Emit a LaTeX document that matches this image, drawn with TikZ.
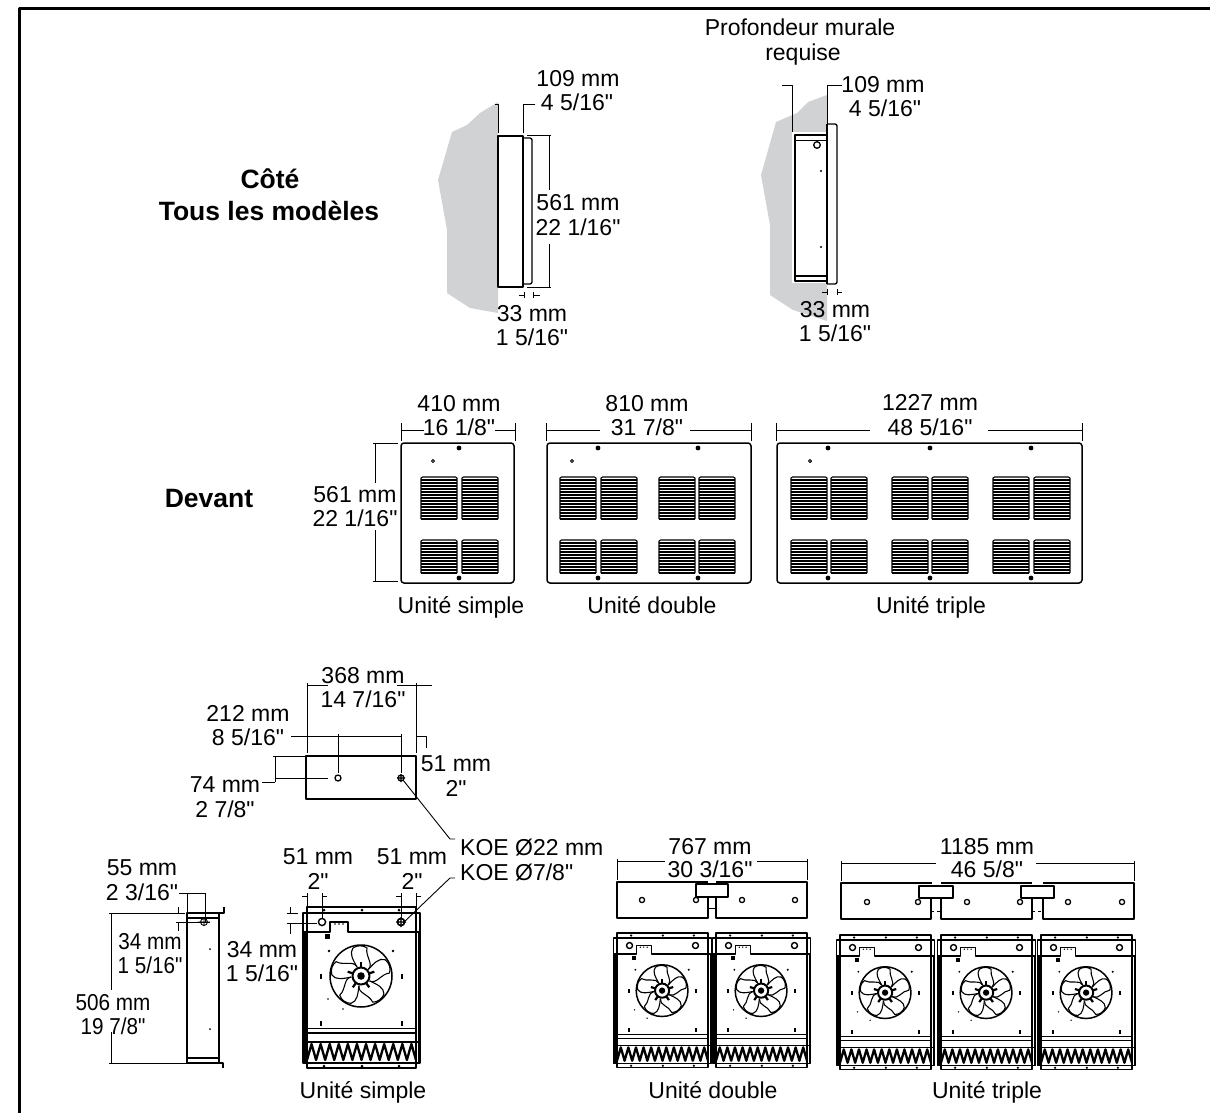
\documentclass[tikz,border=0pt]{standalone}
\usepackage{fontspec}
\usepackage{graphicx}
\setmainfont{Liberation Sans}[Ligatures=TeXOff]
\tikzset{
	lbl/.style={inner sep=0pt, text height=16.5pt, text depth=0pt, font=\fontsize{23}{27}\selectfont},
	lblb/.style={inner sep=0pt, text height=19pt, text depth=0pt, font=\fontsize{26.5}{31}\selectfont\bfseries},
	dim/.style={line width=0.9pt},
	heavy/.style={line width=1.9pt},
	mid/.style={line width=1.3pt}
}
\definecolor{wallgray}{RGB}{208,210,211}
\newcommand{\tight}[1]{\scalebox{0.9}[1]{#1}}
% one slotted opening of the front panel
\newcommand{\grille}[3]{
	\draw[line width=1.1pt] (#1,#2+#3) -- (#1,#2+1) to[bend left=20] (#1+1.5,#2) -- (#1+34.5,#2) to[bend left=20] (#1+36,#2+1) -- (#1+36,#2+#3);
	\foreach \yy in {3,6,...,#3} \draw[line width=1.5pt] (#1,#2+\yy) -- (#1+36,#2+\yy);
}
\newcommand{\screw}[2]{\fill (#1,#2) circle (2.4);}
% fan
\newcommand{\fanwheel}{
	\draw[line width=1.5pt] (0,0) circle (31);
	\foreach \i in {0,72,...,288} {
		\begin{scope}[rotate=\i]
			\draw[line width=1.1pt] (-4,-9) .. controls (-8,-16) and (-12,-23) .. (-8,-28) .. controls (-4,-31) and (2,-31) .. (6,-28) .. controls (4,-20) and (13,-12) .. (7.3,-6.6);
			\draw[line width=2.2pt] (0,-9) -- (0,-14);
		\end{scope}
	}
	\draw[line width=2pt, fill=white] (0,0) circle (8.5);
	\fill (0,0) circle (3.8);
}
\newcommand{\fanunit}[3]{
	\begin{scope}[shift={(#1,#2)},scale=#3]
		\draw[mid] (0,0) rectangle (109,161);
		\draw[mid] (-4,6) rectangle (113,156);
		\draw[heavy] (-2,25) -- (-2,156);
		\draw[heavy] (112,25) -- (112,156);
		\draw[dim, dashed] (109,25) -- (109,135);
		\draw[mid] (-4,25) -- (23,25) -- (23,15) -- (41,15) -- (41,25) -- (113,25);
		\draw[line width=1.4pt] (15,15) circle (3.6);
		\draw[line width=1.4pt] (94,15) circle (3.6);
		\fill (28,17) circle (0.9) (32,17) circle (0.9) (36,17) circle (0.9);
		\fill (18,27) rectangle (23,32);
		\foreach \xx in {17,55,92} \fill (\xx,3) circle (1.5) (\xx,159) circle (1.5);
		\foreach \xx/\yy in {14/69,95/69,14/116,95/116} \fill (\xx-1.2,\yy-2.5) rectangle (\xx+1.2,\yy+2.5);
		\fill (22,44) circle (1.3) (86,44) circle (1.3) (21,92) circle (0.9) (36,102) circle (0.9);
		\draw[dim] (0,121) -- (109,121);
		\draw[mid] (0,126) -- (109,126);
		\draw[mid] (-4,135) -- (113,135);
		\draw[line width=2.3pt] (0,153) \foreach \i in {1,...,12} { -- ({\i*9.08-4.54},137) -- ({\i*9.08},153)};
		\begin{scope}[shift={(54,69)}]
			\fanwheel
		\end{scope}
	\end{scope}
}
\begin{document}
\begin{tikzpicture}[x=1pt, y=-1pt, line join=round, line cap=butt]
	\useasboundingbox (0,0) rectangle (1210,1113);
	\draw[line width=3pt] (19,1113) -- (19,9) -- (1210,9);
	% cote
	\node[lblb] (cote) at (270,179) {Côté};
	\node[lblb] (tous) at (269,211) {Tous les modèles};
	\fill[wallgray] (498,102) -- (480,113) -- (467,125) -- (452,132) -- (438,180) -- (447,230) -- (447,293) -- (470,308) -- (498,313) -- cycle;
	\draw[heavy, fill=white] (498,136) rectangle (523,287);
	\draw[mid, rounded corners=2pt] (523,138) -- (532,138) -- (532,284) -- (523,284);
	\draw[dim] (495,104) -- (498,104) -- (498,133);
	\draw[dim] (535,104) -- (523,104) -- (523,133);
	\draw[dim] (527,135.5) -- (551,135.5) (549,135.5) -- (549,190) (549,244) -- (549,287) (527,287) -- (551,287);
	\draw[dim] (519,295) -- (524,295) (524,292) -- (524,298) (533,292) -- (533,298) (533,295) -- (540,295);
	\node[lbl] (a1) at (578,78) {109 mm};
	\node[lbl] (a2) at (577,102) {4 5/16"};
	\node[lbl] (a3) at (578,202) {561 mm};
	\node[lbl] (a4) at (578,227) {22 1/16"};
	\node[lbl] (a5) at (532,313) {33 mm};
	\node[lbl] (a6) at (532,337) {1 5/16"};
	% profondeur murale
	\node[lbl] (prof) at (800,27) {Profondeur murale};
	\node[lbl] (req) at (803,52) {requise};
	\fill[wallgray] (827,95) -- (808,102) -- (797,113) -- (776,122) -- (761,175) -- (770,225) -- (770,295) -- (793,310) -- (827,321) -- cycle;
	\fill[white] (792,132) rectangle (827,283);
	\draw[heavy] (827,135) -- (795,135) -- (795,281) -- (827,281);
	\draw[heavy] (827,124) -- (827,284);
	\draw[dim] (795,140) -- (827,140);
	\draw[mid] (795,276) -- (827,276);
	\draw[mid, rounded corners=2pt] (827,124) -- (837,124) -- (837,284) -- (827,284);
	\draw[mid] (817,145) circle (3.3);
	\fill (821,171) circle (1.2) (821,247) circle (1.2);
	\draw[dim] (782,85) -- (792,85) -- (792,132);
	\draw[dim] (842,85) -- (827,85) -- (827,124);
	\draw[dim] (822,292) -- (827,292) (827,289) -- (827,295) (837,289) -- (837,295) (837,292) -- (842,292);
	\node[lbl] (b1) at (883,84) {109 mm};
	\node[lbl] (b2) at (885,108) {4 5/16"};
	\node[lbl] (b3) at (835,309) {33 mm};
	\node[lbl] (b4) at (835,333) {1 5/16"};
	% devant
	\node[lblb] (dev) at (209,498) {Devant};
	\draw[line width=1.5pt, rounded corners=3pt] (401,443) rectangle (514,583);
	\draw[line width=1.5pt, rounded corners=3pt] (547,443) rectangle (751,583);
	\draw[line width=1.5pt, rounded corners=3pt] (777,443) rectangle (1082,583);
	\foreach \xx in {421,462,560,601,659,699,791,831,892,932,993,1034} {
		\grille{\xx}{477}{42}
		\grille{\xx}{540}{33}
	}
	\foreach \xx in {459,598,698,828,930,1031} {
		\screw{\xx}{448}
		\screw{\xx}{578}
	}
	\foreach \xx in {433,572,810} \draw[dim] (\xx,461) circle (1.6);
	\draw[dim] (401,423) -- (401,441) (401,430) -- (424,430) (495,430) -- (515,430) (515,423) -- (515,441);
	\draw[dim] (546,423) -- (546,441) (546,430) -- (600,430) (690,430) -- (751,430) (751,423) -- (751,441);
	\draw[dim] (776,423) -- (776,441) (776,430) -- (870,430) (988,430) -- (1082,430) (1082,423) -- (1082,441);
	\draw[dim] (373,443) -- (398,443) (375,443) -- (375,483) (375,530) -- (375,581) (373,581) -- (398,581);
	\node[lbl] (c1) at (459,403) {410 mm};
	\node[lbl] (c2) at (459,427) {16 1/8"};
	\node[lbl] (c3) at (355,494) {561 mm};
	\node[lbl] (c4) at (355,518) {22 1/16"};
	\node[lbl] (c5) at (647,403) {810 mm};
	\node[lbl] (c6) at (647,427) {31 7/8"};
	\node[lbl] (c7) at (930,402) {1227 mm};
	\node[lbl] (c8) at (930,427) {48 5/16"};
	\node[lbl] (c9) at (461,605) {Unité simple};
	\node[lbl] (c10) at (652,605) {Unité double};
	\node[lbl] (c11) at (931,605) {Unité triple};
	% plaque arriere
	\draw[heavy] (306,756) rectangle (416,799);
	\draw[mid] (338,778) circle (3);
	\draw[mid] (401,778) circle (3) (397,778) -- (405,778) (401,774) -- (401,782);
	\draw[dim] (307,683) -- (307,753) (416,683) -- (416,753);
	\draw[dim] (307,685) -- (328,685) (397,685) -- (432,685);
	\draw[dim] (291,736) -- (401,736) (338,734) -- (338,773) (401,734) -- (401,773);
	\draw[dim] (416,736) -- (426,736) -- (426,748);
	\draw[dim] (273,756) -- (306,756) (275,756) -- (275,782) (275,778) -- (328,778) (262,782) -- (275,782);
	\draw[dim] (403,780) -- (450,839) -- (455,839);
	\draw[dim] (403,923) -- (450,878) -- (455,878);
	\node[lbl] (d1) at (363,675) {368 mm};
	\node[lbl] (d2) at (363,699) {14 7/16"};
	\node[lbl] (d3) at (248,713) {212 mm};
	\node[lbl] (d4) at (248,737) {8 5/16"};
	\node[lbl] (d5) at (225,784) {74 mm};
	\node[lbl] (d6) at (225,809) {2 7/8"};
	\node[lbl] (d7) at (456,763) {51 mm};
	\node[lbl] (d8) at (456,788) {2"};
	\node[lbl, anchor=west] (koe1) at (460,847) {KOE Ø22 mm};
	\node[lbl, anchor=west] (koe2) at (460,872) {KOE Ø7/8"};
	% vue de cote du dessous
	\draw[mid] (187,913) rectangle (219,1063);
	\draw[heavy] (219,913) -- (219,1063);
	\draw[mid] (187,918) -- (219,918);
	\draw[mid] (187,1058) -- (219,1058);
	\draw[dim] (204,922) circle (3.5) (198,922) -- (210,922) (204,918) -- (204,926);
	\fill (210,949) circle (1) (210,1029) circle (1);
	\draw[mid] (219,913) -- (224,913) -- (224,907) (219,1063) -- (223,1063) -- (223,1068);
	\draw[dim] (179,893) -- (205,893) (187,893) -- (187,913) (205,893) -- (205,922);
	\draw[dim] (109,913) -- (185,913) (111,913) -- (111,990) (111,1032) -- (111,1063) (109,1063) -- (187,1063);
	\draw[dim] (178,907) -- (178,913) (176,922) -- (210,922) (178,922) -- (178,931);
	\node[lbl] (e1) at (142,867) {55 mm};
	\node[lbl] (e2) at (142,892) {2 3/16"};
	\node[lbl] (e3) at (150,941) {\tight{34 mm}};
	\node[lbl] (e4) at (150,965) {\tight{1 5/16"}};
	\node[lbl] (e5) at (113,1002) {\tight{506 mm}};
	\node[lbl] (e6) at (113,1026) {\tight{19 7/8"}};
	% unite simple
	\fanunit{307}{907}{1}
	\draw[mid] (401,922) circle (3.6) (396,922) -- (406,922) (401,917) -- (401,927);
	\draw[dim] (302,896) -- (307,896) (307,893) -- (307,907) (322,893) -- (322,918) (322,896) -- (327,896);
	\draw[dim] (396,896) -- (401,896) (401,893) -- (401,918) (416,893) -- (416,907) (416,896) -- (421,896);
	\draw[dim] (287,913) -- (298,913) (290,907) -- (290,913) (287,923) -- (317,923) (290,923) -- (290,934);
	\node[lbl] (f1) at (318,856) {51 mm};
	\node[lbl] (f2) at (318,881) {2"};
	\node[lbl] (f3) at (412,856) {51 mm};
	\node[lbl] (f4) at (412,881) {2"};
	\node[lbl] (f5) at (262,949) {34 mm};
	\node[lbl] (f6) at (262,973) {1 5/16"};
	\node[lbl] (f7) at (363,1090) {Unité simple};
	% unite double
	\draw[line width=1.5pt] (708,882) -- (617,882) -- (617,918) -- (708,918) -- (708,897);
	\draw[line width=1.5pt] (716,897) -- (716,918) -- (807,918) -- (807,882) -- (716,882);
	\draw[heavy] (617,882) -- (708,882) (716,882) -- (807,882);
	\draw[mid, fill=white] (696,884) rectangle (728,897);
	\draw[dim] (708,908) -- (716,908);
	\foreach \xx in {642,696,742,795} \draw[mid, fill=white] (\xx,900) circle (2.6);
	\draw[dim] (617,861) -- (665,861) (757,861) -- (807,861) (617,859) -- (617,880) (807,859) -- (807,880);
	\node[lbl] (g1) at (710,846) {767 mm};
	\node[lbl] (g2) at (710,869) {30 3/16"};
	\fanunit{617}{933}{0.835}
	\fanunit{716}{933}{0.835}
	\node[lbl] (g3) at (713,1090) {Unité double};
	% unite triple
	\draw[line width=1.5pt] (932,883) -- (841,883) -- (841,919) -- (931,919) -- (931,898);
	\draw[line width=1.5pt] (941,898) -- (941,919) -- (1032,919) -- (1032,898) (941,883) -- (1032,883);
	\draw[line width=1.5pt] (1043,898) -- (1043,919) -- (1134,919) -- (1134,883) -- (1043,883);
	\draw[mid, fill=white] (919,886) rectangle (953,898);
	\draw[mid, fill=white] (1021,886) rectangle (1054,898);
	\draw[dim, dashed] (931,911) -- (941,911) (1032,911) -- (1043,911);
	\foreach \xx in {867,918,967,1020,1068,1122} \draw[mid, fill=white] (\xx,902) circle (2.6);
	\draw[dim] (841,863) -- (936,863) (1036,863) -- (1134,863) (841,861) -- (841,881) (1134,861) -- (1134,881);
	\node[lbl] (h1) at (987,846) {1185 mm};
	\node[lbl] (h2) at (987,869) {46 5/8"};
	\fanunit{840}{935}{0.835}
	\fanunit{941}{935}{0.835}
	\fanunit{1041}{935}{0.835}
	\node[lbl] (h3) at (987,1090) {Unité triple};
\end{tikzpicture}
\end{document}
